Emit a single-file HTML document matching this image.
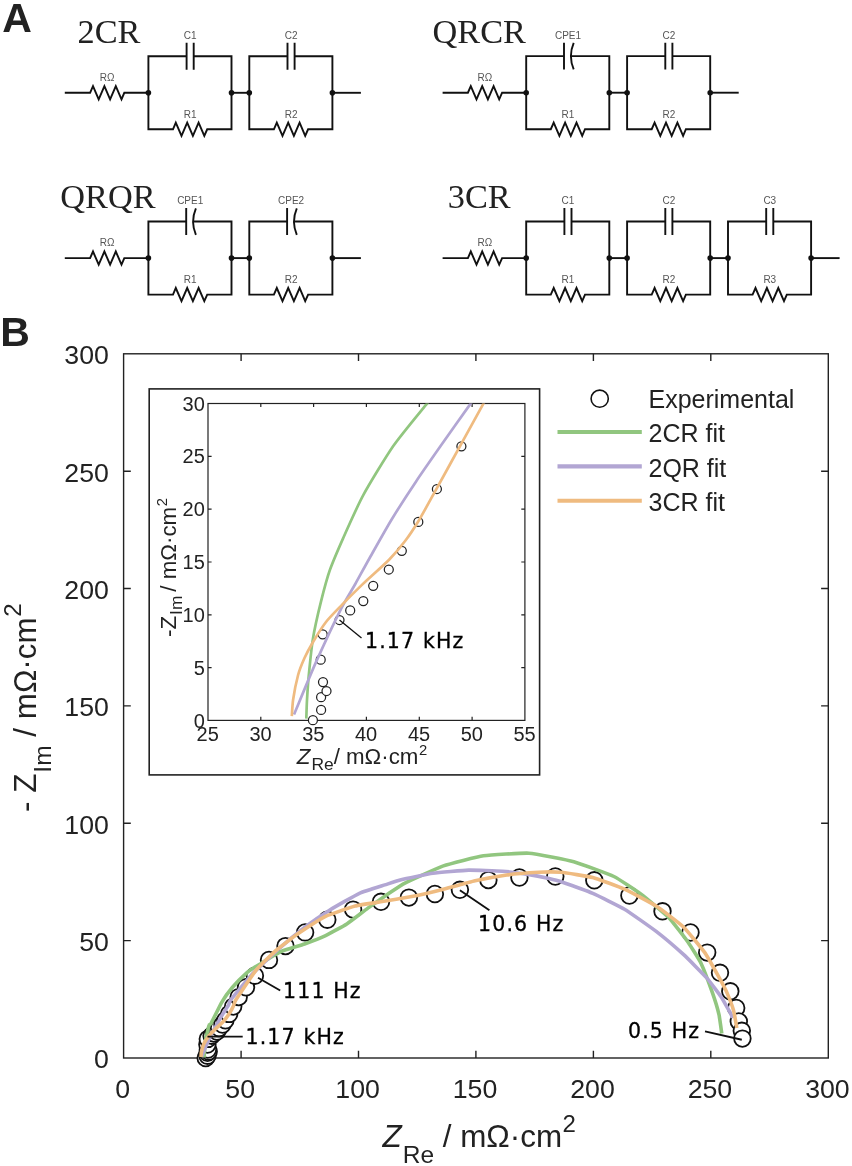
<!DOCTYPE html>
<html lang="en"><head><meta charset="utf-8"><title>Equivalent circuits and Nyquist plot</title>
<style>html,body{margin:0;padding:0;background:#fff}body{width:852px;height:1166px;overflow:hidden}svg{display:block}text{font-family:"Liberation Sans",sans-serif;fill:#222}.serif{font-family:"Liberation Serif",serif}.dv{font-family:"DejaVu Sans","Liberation Sans",sans-serif;letter-spacing:1.15px;fill:#000;stroke:#000;stroke-width:0.3px}.lab{font-size:10px;fill:#555;text-anchor:middle}.w{stroke:#111;stroke-width:1.9;fill:none;stroke-linejoin:miter;stroke-linecap:butt}.ax{stroke:#222;stroke-width:1.4;fill:none}.fit{fill:none;stroke-linejoin:round;stroke-linecap:butt}</style></head><body>
<svg width="852" height="1166" viewBox="0 0 852 1166">
<rect width="852" height="1166" fill="#fff"/>
<text x="2.3" y="32.4" font-size="41" font-weight="bold" fill="#000">A</text>
<text x="0.2" y="345.5" font-size="41" font-weight="bold" fill="#000">B</text>
<path class="w" d="M64.8 92.8 L90.1 92.8 L93.0 86.2 L98.7 99.4 L104.4 86.2 L110.1 99.4 L115.8 86.2 L121.5 99.4 L124.3 92.8 L148.4 92.8"/>
<text class="lab" x="107.1" y="81.0">RΩ</text>
<path class="w" d="M148.4 92.8 V56.2 H186.6 M193.7 56.2 H231.5 V92.8"/>
<path class="w" d="M186.6 42.8 V69.7 M193.7 42.8 V69.7"/>
<path class="w" d="M148.4 92.8 L148.4 129.3 L173.0 129.3 L175.8 122.7 L181.5 135.9 L187.2 122.7 L192.9 135.9 L198.6 122.7 L204.3 135.9 L207.2 129.3 L231.5 129.3 L231.5 92.8"/>
<path class="w" d="M231.5 92.8 H249.3"/>
<circle cx="148.4" cy="92.8" r="2.8" fill="#111"/>
<circle cx="231.5" cy="92.8" r="2.8" fill="#111"/>
<text class="lab" x="190.2" y="38.6">C1</text>
<text class="lab" x="190.2" y="117.9">R1</text>
<path class="w" d="M249.3 92.8 V56.2 H287.5 M294.6 56.2 H332.4 V92.8"/>
<path class="w" d="M287.5 42.8 V69.7 M294.6 42.8 V69.7"/>
<path class="w" d="M249.3 92.8 L249.3 129.3 L273.9 129.3 L276.8 122.7 L282.5 135.9 L288.2 122.7 L293.9 135.9 L299.6 122.7 L305.2 135.9 L308.1 129.3 L332.4 129.3 L332.4 92.8"/>
<path class="w" d="M332.4 92.8 H360.9"/>
<circle cx="249.3" cy="92.8" r="2.8" fill="#111"/>
<circle cx="332.4" cy="92.8" r="2.8" fill="#111"/>
<text class="lab" x="291.1" y="38.6">C2</text>
<text class="lab" x="291.1" y="117.9">R2</text>
<text class="serif" x="77.5" y="42.9" font-size="34.3" fill="#000">2CR</text>
<path class="w" d="M442.6 92.7 L467.9 92.7 L470.8 86.1 L476.5 99.3 L482.2 86.1 L487.9 99.3 L493.6 86.1 L499.2 99.3 L502.1 92.7 L526.2 92.7"/>
<text class="lab" x="484.9" y="80.9">RΩ</text>
<path class="w" d="M526.2 92.7 V56.1 H564.0 M570.9 56.1 H609.3 V92.7"/>
<path class="w" d="M564.0 42.7 V69.6 M573.7 42.9 Q568.1 56.1 573.7 69.4"/>
<path class="w" d="M526.2 92.7 L526.2 129.2 L550.8 129.2 L553.7 122.6 L559.4 135.8 L565.1 122.6 L570.8 135.8 L576.5 122.6 L582.2 135.8 L585.0 129.2 L609.3 129.2 L609.3 92.7"/>
<path class="w" d="M609.3 92.7 H627.1"/>
<circle cx="526.2" cy="92.7" r="2.8" fill="#111"/>
<circle cx="609.3" cy="92.7" r="2.8" fill="#111"/>
<text class="lab" x="568.0" y="38.5">CPE1</text>
<text class="lab" x="568.0" y="117.8">R1</text>
<path class="w" d="M627.1 92.7 V56.1 H665.3 M672.4 56.1 H710.2 V92.7"/>
<path class="w" d="M665.3 42.7 V69.6 M672.4 42.7 V69.6"/>
<path class="w" d="M627.1 92.7 L627.1 129.2 L651.7 129.2 L654.6 122.6 L660.3 135.8 L666.0 122.6 L671.7 135.8 L677.4 122.6 L683.1 135.8 L685.9 129.2 L710.2 129.2 L710.2 92.7"/>
<path class="w" d="M710.2 92.7 H738.7"/>
<circle cx="627.1" cy="92.7" r="2.8" fill="#111"/>
<circle cx="710.2" cy="92.7" r="2.8" fill="#111"/>
<text class="lab" x="668.9" y="38.5">C2</text>
<text class="lab" x="668.9" y="117.8">R2</text>
<text class="serif" x="432.6" y="42.9" font-size="34.3" fill="#000">QRCR</text>
<path class="w" d="M64.8 258.1 L90.1 258.1 L93.0 251.5 L98.7 264.7 L104.4 251.5 L110.1 264.7 L115.8 251.5 L121.5 264.7 L124.3 258.1 L148.4 258.1"/>
<text class="lab" x="107.1" y="246.3">RΩ</text>
<path class="w" d="M148.4 258.1 V221.5 H186.2 M193.1 221.5 H231.5 V258.1"/>
<path class="w" d="M186.2 208.1 V235.0 M195.9 208.3 Q190.3 221.5 195.9 234.8"/>
<path class="w" d="M148.4 258.1 L148.4 294.6 L173.0 294.6 L175.8 288.0 L181.5 301.2 L187.2 288.0 L192.9 301.2 L198.6 288.0 L204.3 301.2 L207.2 294.6 L231.5 294.6 L231.5 258.1"/>
<path class="w" d="M231.5 258.1 H249.3"/>
<circle cx="148.4" cy="258.1" r="2.8" fill="#111"/>
<circle cx="231.5" cy="258.1" r="2.8" fill="#111"/>
<text class="lab" x="190.2" y="203.9">CPE1</text>
<text class="lab" x="190.2" y="283.2">R1</text>
<path class="w" d="M249.3 258.1 V221.5 H287.1 M294.0 221.5 H332.4 V258.1"/>
<path class="w" d="M287.1 208.1 V235.0 M296.8 208.3 Q291.2 221.5 296.8 234.8"/>
<path class="w" d="M249.3 258.1 L249.3 294.6 L273.9 294.6 L276.8 288.0 L282.5 301.2 L288.2 288.0 L293.9 301.2 L299.6 288.0 L305.2 301.2 L308.1 294.6 L332.4 294.6 L332.4 258.1"/>
<path class="w" d="M332.4 258.1 H360.9"/>
<circle cx="249.3" cy="258.1" r="2.8" fill="#111"/>
<circle cx="332.4" cy="258.1" r="2.8" fill="#111"/>
<text class="lab" x="291.1" y="203.9">CPE2</text>
<text class="lab" x="291.1" y="283.2">R2</text>
<text class="serif" x="60.3" y="207.5" font-size="34.3" fill="#000">QRQR</text>
<path class="w" d="M442.6 258.1 L467.9 258.1 L470.8 251.5 L476.5 264.7 L482.2 251.5 L487.9 264.7 L493.6 251.5 L499.2 264.7 L502.1 258.1 L526.2 258.1"/>
<text class="lab" x="484.9" y="246.3">RΩ</text>
<path class="w" d="M526.2 258.1 V221.5 H564.4 M571.5 221.5 H609.3 V258.1"/>
<path class="w" d="M564.4 208.1 V235.0 M571.5 208.1 V235.0"/>
<path class="w" d="M526.2 258.1 L526.2 294.6 L550.8 294.6 L553.7 288.0 L559.4 301.2 L565.1 288.0 L570.8 301.2 L576.5 288.0 L582.2 301.2 L585.0 294.6 L609.3 294.6 L609.3 258.1"/>
<path class="w" d="M609.3 258.1 H627.1"/>
<circle cx="526.2" cy="258.1" r="2.8" fill="#111"/>
<circle cx="609.3" cy="258.1" r="2.8" fill="#111"/>
<text class="lab" x="568.0" y="203.9">C1</text>
<text class="lab" x="568.0" y="283.2">R1</text>
<path class="w" d="M627.1 258.1 V221.5 H665.3 M672.4 221.5 H710.2 V258.1"/>
<path class="w" d="M665.3 208.1 V235.0 M672.4 208.1 V235.0"/>
<path class="w" d="M627.1 258.1 L627.1 294.6 L651.7 294.6 L654.6 288.0 L660.3 301.2 L666.0 288.0 L671.7 301.2 L677.4 288.0 L683.1 301.2 L685.9 294.6 L710.2 294.6 L710.2 258.1"/>
<path class="w" d="M710.2 258.1 H728.0"/>
<circle cx="627.1" cy="258.1" r="2.8" fill="#111"/>
<circle cx="710.2" cy="258.1" r="2.8" fill="#111"/>
<text class="lab" x="668.9" y="203.9">C2</text>
<text class="lab" x="668.9" y="283.2">R2</text>
<path class="w" d="M728.0 258.1 V221.5 H766.2 M773.3 221.5 H811.1 V258.1"/>
<path class="w" d="M766.2 208.1 V235.0 M773.3 208.1 V235.0"/>
<path class="w" d="M728.0 258.1 L728.0 294.6 L752.6 294.6 L755.5 288.0 L761.2 301.2 L766.9 288.0 L772.6 301.2 L778.3 288.0 L784.0 301.2 L786.8 294.6 L811.1 294.6 L811.1 258.1"/>
<path class="w" d="M811.1 258.1 H839.6"/>
<circle cx="728.0" cy="258.1" r="2.8" fill="#111"/>
<circle cx="811.1" cy="258.1" r="2.8" fill="#111"/>
<text class="lab" x="769.8" y="203.9">C3</text>
<text class="lab" x="769.8" y="283.2">R3</text>
<text class="serif" x="447.8" y="207.5" font-size="34.3" fill="#000">3CR</text>
<rect class="ax" x="123.6" y="353.8" width="704.7" height="704.2"/>
<path class="ax" d="M241.1 1058.0 v-7.2 M241.1 353.8 v7.2 M123.6 940.6 h7.2 M828.3 940.6 h-7.2 M358.5 1058.0 v-7.2 M358.5 353.8 v7.2 M123.6 823.3 h7.2 M828.3 823.3 h-7.2 M475.9 1058.0 v-7.2 M475.9 353.8 v7.2 M123.6 705.9 h7.2 M828.3 705.9 h-7.2 M593.4 1058.0 v-7.2 M593.4 353.8 v7.2 M123.6 588.5 h7.2 M828.3 588.5 h-7.2 M710.8 1058.0 v-7.2 M710.8 353.8 v7.2 M123.6 471.2 h7.2 M828.3 471.2 h-7.2"/>
<text x="108.9" y="1068.4" font-size="26.7" text-anchor="end">0</text>
<text x="122.7" y="1098.4" font-size="26.7" text-anchor="middle">0</text>
<text x="108.9" y="951.0" font-size="26.7" text-anchor="end">50</text>
<text x="240.2" y="1098.4" font-size="26.7" text-anchor="middle">50</text>
<text x="108.9" y="833.7" font-size="26.7" text-anchor="end">100</text>
<text x="357.6" y="1098.4" font-size="26.7" text-anchor="middle">100</text>
<text x="108.9" y="716.3" font-size="26.7" text-anchor="end">150</text>
<text x="475.0" y="1098.4" font-size="26.7" text-anchor="middle">150</text>
<text x="108.9" y="598.9" font-size="26.7" text-anchor="end">200</text>
<text x="592.5" y="1098.4" font-size="26.7" text-anchor="middle">200</text>
<text x="108.9" y="481.6" font-size="26.7" text-anchor="end">250</text>
<text x="709.9" y="1098.4" font-size="26.7" text-anchor="middle">250</text>
<text x="108.9" y="364.2" font-size="26.7" text-anchor="end">300</text>
<text x="827.4" y="1098.4" font-size="26.7" text-anchor="middle">300</text>
<text x="382.5" y="1147.2" font-size="31.4"><tspan font-style="italic">Z</tspan><tspan font-size="24.5" dy="15.4" dx="1">Re</tspan><tspan dy="-15.4"> / mΩ·cm</tspan><tspan font-size="24" dy="-15" dx="0.5">2</tspan></text>
<text transform="translate(36,812) rotate(-90)" font-size="31.4">- Z<tspan font-size="24.5" dy="15.4" dx="1">Im</tspan><tspan dy="-15.4"> / mΩ·cm</tspan><tspan font-size="24" dy="-15" dx="0.5">2</tspan></text>
<g fill="#fff" stroke="#111" stroke-width="1.8">
<circle cx="205.7" cy="1058.0" r="8.3"/>
<circle cx="207.5" cy="1055.7" r="8.3"/>
<circle cx="207.5" cy="1052.8" r="8.3"/>
<circle cx="208.7" cy="1051.5" r="8.3"/>
<circle cx="207.9" cy="1049.5" r="8.3"/>
<circle cx="207.4" cy="1044.5" r="8.3"/>
<circle cx="207.8" cy="1038.9" r="8.3"/>
<circle cx="211.6" cy="1035.7" r="8.3"/>
<circle cx="213.9" cy="1033.6" r="8.3"/>
<circle cx="216.9" cy="1031.5" r="8.3"/>
<circle cx="219.1" cy="1028.1" r="8.3"/>
<circle cx="222.5" cy="1024.5" r="8.3"/>
<circle cx="225.4" cy="1020.3" r="8.3"/>
<circle cx="229.1" cy="1013.9" r="8.3"/>
<circle cx="233.2" cy="1006.6" r="8.3"/>
<circle cx="238.7" cy="997.1" r="8.3"/>
<circle cx="246.0" cy="987.3" r="8.3"/>
<circle cx="254.9" cy="975.7" r="8.3"/>
<circle cx="269.0" cy="959.9" r="8.3"/>
<circle cx="285.5" cy="946.1" r="8.3"/>
<circle cx="305.1" cy="932.4" r="8.3"/>
<circle cx="327.3" cy="919.7" r="8.3"/>
<circle cx="353.1" cy="909.6" r="8.3"/>
<circle cx="381.0" cy="901.8" r="8.3"/>
<circle cx="408.9" cy="897.6" r="8.3"/>
<circle cx="434.9" cy="894.0" r="8.3"/>
<circle cx="459.9" cy="889.8" r="8.3"/>
<circle cx="488.4" cy="880.1" r="8.3"/>
<circle cx="519.4" cy="877.5" r="8.3"/>
<circle cx="555.3" cy="876.5" r="8.3"/>
<circle cx="594.3" cy="880.3" r="8.3"/>
<circle cx="629.4" cy="895.5" r="8.3"/>
<circle cx="662.5" cy="911.3" r="8.3"/>
<circle cx="690.5" cy="932.5" r="8.3"/>
<circle cx="707.2" cy="952.6" r="8.3"/>
<circle cx="720.0" cy="972.8" r="8.3"/>
<circle cx="730.3" cy="991.3" r="8.3"/>
<circle cx="736.2" cy="1008.0" r="8.3"/>
<circle cx="738.8" cy="1021.4" r="8.3"/>
<circle cx="741.8" cy="1030.8" r="8.3"/>
<circle cx="742.4" cy="1038.6" r="8.3"/>
</g>
<path class="fit" stroke="#91c67f" stroke-width="3.6" d="M204.2 1057.6 C204.2 1057.3 204.3 1054.1 204.3 1053.5 C204.4 1052.8 204.7 1048.8 204.7 1047.9 C204.8 1047.0 205.5 1041.0 205.7 1039.9 C205.8 1038.8 207.2 1032.5 207.5 1031.5 C207.7 1030.5 209.1 1025.2 209.4 1024.7 C209.6 1024.2 210.3 1024.9 211.1 1023.4 C211.9 1021.9 220.3 1004.7 221.7 1002.3 C223.1 999.9 230.6 989.5 232.3 987.5 C234.0 985.5 245.2 974.3 247.0 972.7 C248.8 971.1 257.4 965.6 259.7 964.2 C262.0 962.8 278.3 952.7 281.3 951.4 C284.3 950.1 301.5 945.1 304.5 944.0 C307.5 942.9 322.8 936.9 325.6 935.6 C328.4 934.3 344.0 925.7 346.8 923.9 C349.6 922.1 365.1 910.1 367.9 908.1 C370.7 906.1 386.5 895.0 389.0 893.3 C391.5 891.6 401.8 884.6 405.4 882.8 C409.0 881.0 438.2 867.7 443.4 865.9 C448.6 864.1 477.8 856.6 483.5 855.8 C489.2 855.0 523.0 852.8 529.0 853.2 C535.0 853.6 568.1 860.1 573.8 861.7 C579.5 863.3 609.4 874.3 613.9 876.5 C618.4 878.7 637.7 891.7 641.4 894.4 C645.1 897.1 665.8 914.5 668.9 917.7 C672.0 920.9 685.8 939.0 687.9 942.0 C690.0 945.0 699.5 960.0 701.1 963.4 C702.7 966.8 711.1 989.0 712.3 992.4 C713.5 995.8 718.4 1012.0 719.0 1014.7 C719.6 1017.4 721.6 1032.3 721.8 1033.6"/>
<path class="fit" stroke="#b2a6d3" stroke-width="3.6" d="M201.4 1056.7 C201.8 1055.9 205.7 1046.6 206.4 1045.0 C207.1 1043.4 211.3 1034.5 211.9 1033.3 C212.4 1032.2 214.6 1028.5 215.1 1027.7 C215.5 1026.9 217.9 1022.7 218.4 1021.7 C218.9 1020.7 222.5 1014.4 223.2 1013.3 C223.9 1012.2 228.1 1005.8 228.6 1004.9 C229.1 1004.0 229.1 1002.0 230.6 1000.0 C232.1 998.0 248.6 978.0 251.7 974.7 C254.8 971.4 273.5 953.4 277.0 950.3 C280.5 947.2 301.0 930.2 304.5 927.5 C308.0 924.8 326.2 912.3 329.9 910.0 C333.6 907.7 355.7 895.0 359.4 893.3 C363.1 891.6 382.0 885.8 384.8 884.9 C387.6 884.0 397.9 880.5 401.1 879.7 C404.3 878.9 428.3 873.9 432.8 873.3 C437.3 872.7 464.1 870.2 468.7 870.1 C473.3 870.0 498.6 870.9 502.5 871.2 C506.4 871.5 524.8 873.9 527.9 874.4 C531.0 874.9 546.8 878.1 549.0 878.6 C551.2 879.1 558.2 880.8 561.1 881.8 C564.0 882.8 588.6 891.6 592.8 893.4 C597.0 895.2 620.3 906.7 624.5 909.2 C628.7 911.7 652.3 928.4 656.2 931.4 C660.1 934.4 680.3 951.6 683.7 954.7 C687.1 957.8 704.2 975.1 706.7 977.9 C709.2 980.7 719.6 994.5 721.2 996.9 C722.8 999.3 729.9 1012.2 730.7 1013.6 C731.5 1015.0 732.4 1017.7 732.5 1018.0"/>
<path class="fit" stroke="#efbb80" stroke-width="3.6" d="M201.0 1057.0 C201.0 1056.8 201.2 1054.0 201.2 1053.4 C201.3 1052.8 202.2 1048.5 202.4 1047.9 C202.5 1047.3 203.6 1044.6 203.8 1044.1 C204.0 1043.6 205.3 1041.2 205.7 1040.6 C206.0 1040.1 208.1 1036.7 208.6 1036.1 C209.0 1035.6 211.7 1032.8 212.2 1032.2 C212.7 1031.7 215.9 1028.5 216.6 1027.8 C217.3 1027.2 222.0 1022.9 222.6 1022.3 C223.2 1021.6 225.8 1018.7 226.2 1018.1 C226.6 1017.5 228.7 1014.4 229.2 1013.6 C229.7 1012.8 232.8 1007.3 233.2 1006.4 C233.7 1005.5 234.3 1002.4 235.8 1000.0 C237.3 997.6 253.3 973.6 255.9 970.4 C258.5 967.2 272.1 953.8 274.9 951.3 C277.7 948.8 294.8 935.8 298.2 933.5 C301.6 931.2 321.8 918.1 325.6 916.3 C329.4 914.5 351.5 907.0 355.2 906.0 C358.9 905.0 376.8 902.4 380.6 901.8 C384.4 901.2 407.5 897.4 411.7 896.6 C415.9 895.8 439.2 890.3 443.4 889.2 C447.6 888.1 470.9 881.6 475.1 880.7 C479.3 879.8 502.6 875.6 506.8 875.0 C511.0 874.4 534.9 872.5 538.5 872.3 C542.1 872.1 557.5 872.0 561.1 872.3 C564.7 872.6 588.6 876.4 592.8 877.5 C597.0 878.6 620.3 887.3 624.5 889.2 C628.7 891.1 652.3 903.6 656.2 906.1 C660.1 908.6 680.5 924.1 683.7 927.2 C686.9 930.3 702.3 949.2 704.6 952.4 C706.9 955.6 716.3 972.5 717.8 975.2 C719.3 977.9 725.8 990.1 726.8 992.4 C727.8 994.7 732.8 1007.8 733.5 1010.2 C734.2 1012.6 736.6 1026.8 736.8 1028.0"/>
<path d="M705 1031.4 L741.8 1039.7 M459.9 890.2 L489.4 910.3 M258 977.8 L280.2 990.5 M207.5 1036.6 L242.7 1036.6" stroke="#111" stroke-width="1.9" fill="none"/>
<text class="dv" x="628" y="1038" font-size="20.5">0.5 Hz</text>
<text class="dv" x="478" y="931" font-size="20.5">10.6 Hz</text>
<text class="dv" x="283" y="998" font-size="20.5">111 Hz</text>
<text class="dv" x="245.5" y="1044" font-size="20.5">1.17 kHz</text>
<circle cx="599.7" cy="398.7" r="8.6" fill="#fff" stroke="#111" stroke-width="1.6"/>
<path d="M557.5 432.0 H641.8" stroke="#91c67f" stroke-width="4.1" fill="none"/>
<text x="648.5" y="442.4" font-size="25">2CR fit</text>
<path d="M557.5 466.4 H641.8" stroke="#b2a6d3" stroke-width="4.1" fill="none"/>
<text x="648.5" y="476.8" font-size="25">2QR fit</text>
<path d="M557.5 500.7 H641.8" stroke="#efbb80" stroke-width="4.1" fill="none"/>
<text x="648.5" y="511.1" font-size="25">3CR fit</text>
<text x="648.5" y="408.3" font-size="25">Experimental</text>
<rect x="149.2" y="388.9" width="390.4" height="386" fill="#fff" stroke="#222" stroke-width="1.6"/>
<clipPath id="ic"><rect x="188.0" y="403.5" width="336.9" height="326.9"/></clipPath>
<rect x="208.0" y="403.5" width="316.9" height="316.9" fill="none" stroke="#222" stroke-width="1.2"/>
<path d="M260.8 720.4 v-3.6 M260.8 403.5 v3.6 M313.6 720.4 v-3.6 M313.6 403.5 v3.6 M366.4 720.4 v-3.6 M366.4 403.5 v3.6 M419.3 720.4 v-3.6 M419.3 403.5 v3.6 M472.1 720.4 v-3.6 M472.1 403.5 v3.6 M208.0 667.6 h3.6 M524.9 667.6 h-3.6 M208.0 614.8 h3.6 M524.9 614.8 h-3.6 M208.0 562.0 h3.6 M524.9 562.0 h-3.6 M208.0 509.1 h3.6 M524.9 509.1 h-3.6 M208.0 456.3 h3.6 M524.9 456.3 h-3.6" stroke="#222" stroke-width="1.2" fill="none"/>
<text x="207.7" y="741.0" font-size="20" text-anchor="middle">25</text>
<text x="260.5" y="741.0" font-size="20" text-anchor="middle">30</text>
<text x="313.3" y="741.0" font-size="20" text-anchor="middle">35</text>
<text x="366.1" y="741.0" font-size="20" text-anchor="middle">40</text>
<text x="419.0" y="741.0" font-size="20" text-anchor="middle">45</text>
<text x="471.8" y="741.0" font-size="20" text-anchor="middle">50</text>
<text x="524.6" y="741.0" font-size="20" text-anchor="middle">55</text>
<text x="204.8" y="727.5" font-size="20" text-anchor="end">0</text>
<text x="204.8" y="674.7" font-size="20" text-anchor="end">5</text>
<text x="204.8" y="621.9" font-size="20" text-anchor="end">10</text>
<text x="204.8" y="569.1" font-size="20" text-anchor="end">15</text>
<text x="204.8" y="516.2" font-size="20" text-anchor="end">20</text>
<text x="204.8" y="463.4" font-size="20" text-anchor="end">25</text>
<text x="204.8" y="410.6" font-size="20" text-anchor="end">30</text>
<text x="296.8" y="764" font-size="22.3"><tspan font-style="italic">Z</tspan><tspan font-size="17.4" dy="5.8" dx="1">Re</tspan><tspan dy="-5.8">/ mΩ·cm</tspan><tspan font-size="14.8" dy="-9.5" dx="0.5">2</tspan></text>
<text transform="translate(176.2,637) rotate(-90)" font-size="22.3">-Z<tspan font-size="17.4" dy="5.8" dx="1">Im</tspan><tspan dy="-5.8" dx="4">/ mΩ·cm</tspan><tspan font-size="14.8" dy="-9.5" dx="0.5">2</tspan></text>
<g fill="#fff" stroke="#222" stroke-width="1.25">
<circle cx="312.9" cy="720.2" r="4.5"/>
<circle cx="321.1" cy="709.9" r="4.5"/>
<circle cx="321.1" cy="697.2" r="4.5"/>
<circle cx="326.5" cy="691.0" r="4.5"/>
<circle cx="323.0" cy="682.1" r="4.5"/>
<circle cx="320.7" cy="659.7" r="4.5"/>
<circle cx="322.7" cy="634.3" r="4.5"/>
<circle cx="339.5" cy="620.0" r="4.5"/>
<circle cx="350.2" cy="610.4" r="4.5"/>
<circle cx="363.3" cy="601.1" r="4.5"/>
<circle cx="373.2" cy="585.8" r="4.5"/>
<circle cx="388.8" cy="569.5" r="4.5"/>
<circle cx="401.8" cy="550.8" r="4.5"/>
<circle cx="418.3" cy="521.9" r="4.5"/>
<circle cx="436.9" cy="489.0" r="4.5"/>
<circle cx="461.4" cy="446.3" r="4.5"/>
</g>
<g clip-path="url(#ic)">
<path class="fit" stroke="#91c67f" stroke-width="2.7" d="M306.3 718.6 C306.4 716.4 306.7 705.1 307.0 700.0 C307.3 694.9 308.1 682.1 308.8 675.0 C309.5 667.9 311.5 647.5 312.9 638.9 C314.3 630.3 319.1 609.1 321.1 601.1 C323.1 593.1 327.1 577.9 329.7 570.5 C332.3 563.1 339.3 546.9 343.2 538.1 C347.1 529.3 357.6 505.6 363.4 494.9 C369.2 484.2 385.8 456.9 393.1 446.3 C400.5 435.7 420.9 411.2 426.4 404.4 C431.9 397.6 438.4 389.9 440.0 388.0"/>
<path class="fit" stroke="#b2a6d3" stroke-width="2.7" d="M294.0 714.5 C296.6 708.4 310.6 674.2 316.1 661.9 C321.6 649.6 336.2 618.4 340.8 609.3 C345.4 600.2 351.9 590.1 355.3 584.0 C358.7 577.9 365.9 564.6 370.2 557.0 C374.5 549.4 386.4 528.0 391.8 519.2 C397.2 510.4 410.4 489.9 416.1 481.4 C421.8 472.9 434.1 455.3 440.4 446.3 C446.7 437.3 465.2 411.2 470.1 404.4 C475.0 397.6 480.6 389.9 482.0 388.0"/>
<path class="fit" stroke="#efbb80" stroke-width="2.7" d="M291.8 716.1 C292.0 714.2 292.4 704.5 293.1 699.7 C293.8 694.9 296.8 679.9 298.1 675.0 C299.4 670.1 302.8 661.8 304.5 658.0 C306.2 654.2 310.4 646.4 312.9 642.2 C315.4 638.0 322.6 626.4 326.0 622.0 C329.4 617.6 338.2 608.8 342.4 604.4 C346.6 600.0 356.8 589.8 362.2 584.6 C367.6 579.4 384.1 564.8 389.1 559.7 C394.1 554.6 401.8 545.4 405.3 540.8 C408.8 536.2 415.1 526.6 418.8 520.5 C422.5 514.4 431.9 497.1 436.9 488.1 C441.9 479.1 456.0 453.4 461.4 443.6 C466.8 433.8 479.4 410.9 483.0 404.4 C486.6 397.9 490.9 389.9 492.0 388.0"/>
</g>
<path d="M339.5 620 L361.5 638" stroke="#111" stroke-width="1.3" fill="none"/>
<text class="dv" x="365" y="648" font-size="20.5">1.17 kHz</text>
</svg></body></html>
